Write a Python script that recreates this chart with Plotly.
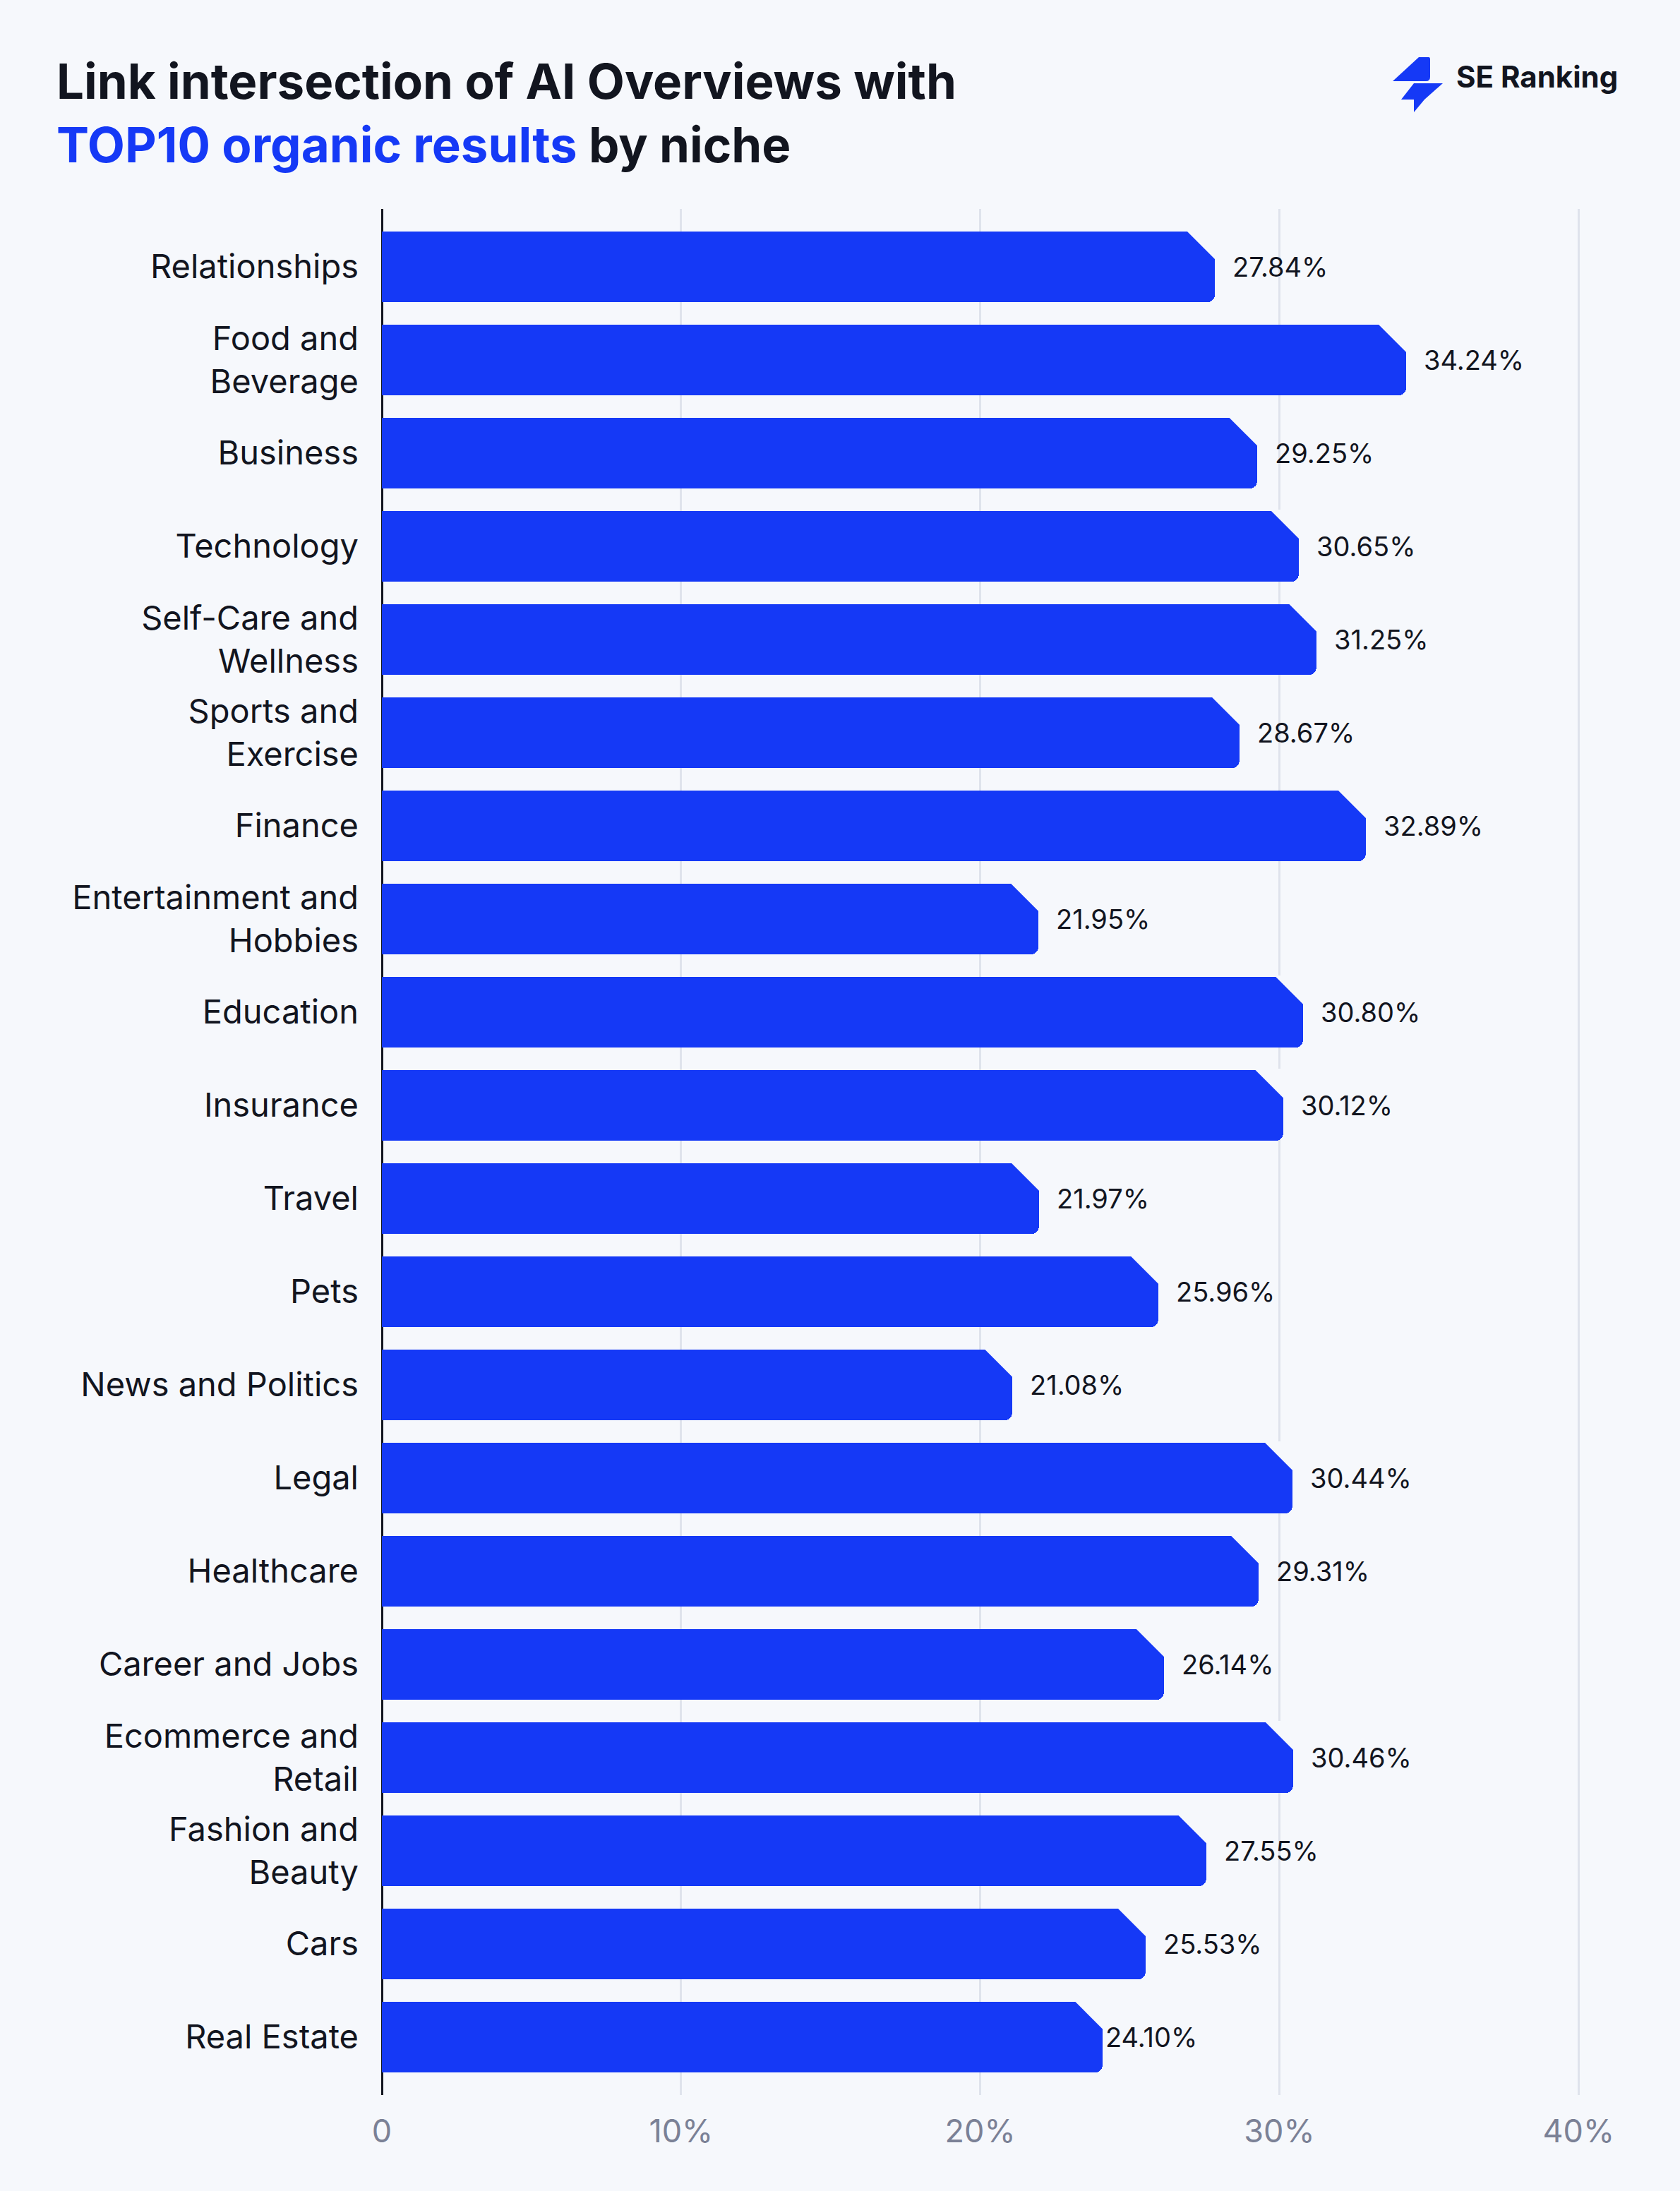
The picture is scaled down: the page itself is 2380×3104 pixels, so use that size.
import plotly.graph_objects as go

# ---------------- data ----------------
categories = [
    "Relationships", "Food and<br>Beverage", "Business", "Technology",
    "Self-Care and<br>Wellness", "Sports and<br>Exercise", "Finance",
    "Entertainment and<br>Hobbies", "Education", "Insurance", "Travel", "Pets",
    "News and Politics", "Legal", "Healthcare", "Career and Jobs",
    "Ecommerce and<br>Retail", "Fashion and<br>Beauty", "Cars", "Real Estate",
]
values = [27.84, 34.24, 29.25, 30.65, 31.25, 28.67, 32.89, 21.95, 30.80, 30.12,
          21.97, 25.96, 21.08, 30.44, 29.31, 26.14, 30.46, 27.55, 25.53, 24.10]
x_tickvals = [0, 10, 20, 30, 40]
x_ticktext = ["0", "10%", "20%", "30%", "40%"]

title_line1 = "Link intersection of AI Overviews with"
title_highlight = "TOP10 organic results"
title_rest = " by niche"
brand = "SE Ranking"

# ---------------- style ----------------
BG = "#f6f8fc"
BLUE = "#1539f6"
DARK = "#12151f"
GRID = "#dfe3ec"
GRAY = "#7b8196"
FONT = "Inter"

W, H = 2380, 3104
ML, MR, MT, MB = 541, 131, 296, 136
PW, PH = W - ML - MR, H - MT - MB

n = len(categories)
idx = list(range(n))

fig = go.Figure()
fig.add_trace(go.Bar(
    x=values, y=idx, orientation="h", width=0.758,
    marker=dict(color=BLUE, cornerradius=10, line=dict(width=0)),
    hoverinfo="skip", showlegend=False,
))

shapes = []
annotations = []
for i, v in enumerate(values):
    # chamfer the top-right corner of every bar
    shapes.append(dict(
        type="path", xref="x", yref="y", xsizemode="pixel", ysizemode="pixel",
        xanchor=v, yanchor=i, path="M -41,52 L 3,52 L 3,8 Z",
        fillcolor=BG, line=dict(width=0), layer="above",
    ))
    annotations.append(dict(
        x=v, y=i, xref="x", yref="y", xanchor="left", yanchor="middle",
        xshift=2 if i == n - 1 else 23, showarrow=False,
        text=f"{v:.2f}%", font=dict(family=FONT, size=38, color=DARK),
    ))

# logo icon
def px(xp):
    return (xp - ML) / PW

def py(yp):
    return (MT + PH - yp) / PH

shapes.append(dict(
    type="path", xref="paper", yref="paper", xsizemode="pixel", ysizemode="pixel",
    xanchor=px(2003), yanchor=py(118),
    path=("M 7,37 L 21,37 Q 23,37 23,34 L 23,9 Q 23,3 17,3 L -30,3 Z "
          "M 0,0 L 41,0 L 15,-23 L 0,-41 L 0,-23 L -18,-23 Z"),
    fillcolor=BLUE, line=dict(width=0), layer="above",
))
annotations.append(dict(
    x=px(2061), y=py(108), xref="paper", yref="paper", xanchor="left",
    yanchor="middle", showarrow=False, text=f"<b>{brand}</b>",
    font=dict(family=FONT, size=42, color=DARK),
))

fig.update_layout(
    width=W, height=H,
    margin=dict(l=ML, r=MR, t=MT, b=MB, pad=0),
    paper_bgcolor=BG, plot_bgcolor=BG,
    title=dict(
        text=(f"<b>{title_line1}<br>"
              f"<span style='color:{BLUE}'>{title_highlight}</span>{title_rest}</b>"),
        xref="container", yref="container", x=80 / W, xanchor="left",
        y=1 - 140 / H, yanchor="top",
        font=dict(family=FONT, size=69, color=DARK),
    ),
    xaxis=dict(
        range=[0, 40.3], tickvals=x_tickvals, ticktext=x_ticktext,
        showgrid=True, gridcolor=GRID, gridwidth=3,
        zeroline=True, zerolinecolor=DARK, zerolinewidth=3,
        showline=False, ticks="", ticklabelstandoff=21,
        tickfont=dict(family=FONT, size=45, color=GRAY),
    ),
    yaxis=dict(
        range=[n - 1 + 0.621, -0.621], tickvals=idx, ticktext=categories,
        showgrid=False, zeroline=False, showline=False, ticks="",
        ticklabelstandoff=32,
        tickfont=dict(family=FONT, size=47, color=DARK),
    ),
    shapes=shapes, annotations=annotations, bargap=0,
)

fig.write_html(
    "out.html",
    config={"displayModeBar": False},
    post_script=("document.body.style.margin='0px';"
                 "document.body.style.background='" + BG + "';"
                 "document.documentElement.style.overflow='hidden';"),
)
